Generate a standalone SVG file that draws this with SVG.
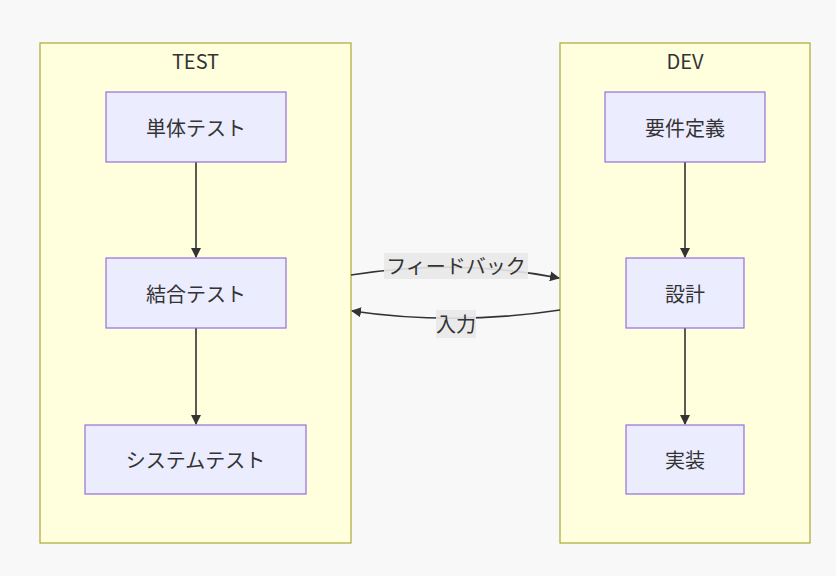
<svg xmlns="http://www.w3.org/2000/svg" width="836" height="576" viewBox="0 0 836 576">
<style>
.cluster rect{fill:#ffffde;stroke:#aaaa33;stroke-width:1.2}
.node rect{fill:#ececff;stroke:#9370db;stroke-width:1.2}
text{font-family:"Noto Sans CJK JP","Noto Sans",sans-serif;fill:#333;font-size:20px;text-anchor:middle;dominant-baseline:central}
.edge{fill:none;stroke:#333;stroke-width:1.6}
.lbl{fill:#e8e8e8;opacity:0.9}
</style>
<defs>
<marker id="arr" viewBox="0 0 10 10" refX="9" refY="5" markerWidth="10" markerHeight="10" markerUnits="userSpaceOnUse" orient="auto">
<path d="M0,0 L10,5 L0,10 z" fill="#333"/>
</marker>
</defs>
<rect width="836" height="576" fill="#f8f8f8"/>
<g id="TEST" class="cluster"><rect x="40" y="43" width="311" height="500"/><text x="195.5" y="60">TEST</text></g>
<g id="DEV" class="cluster"><rect x="560" y="43" width="250" height="500"/><text x="685" y="60">DEV</text></g>
<g id="connectors">
<path class="edge" d="M196,162 L196,257" marker-end="url(#arr)"/>
<path class="edge" d="M196,328 L196,424" marker-end="url(#arr)"/>
<path class="edge" d="M685,162 L685,257" marker-end="url(#arr)"/>
<path class="edge" d="M685,328 L685,424" marker-end="url(#arr)"/>
<path class="edge" d="M351,275 Q455,258 559,278" marker-end="url(#arr)"/>
<path class="edge" d="M560,310 Q455,326 352,311" marker-end="url(#arr)"/>
<rect class="lbl" x="384" y="253" width="144" height="26"/>
<text x="456" y="265">フィードバック</text>
<rect class="lbl" x="436" y="310" width="40" height="28"/>
<text x="456" y="323">入力</text>
</g>
<g id="n1" class="node"><rect x="106" y="92" width="180" height="70"/><text x="196" y="127">単体テスト</text></g>
<g id="n2" class="node"><rect x="106" y="258" width="180" height="70"/><text x="196" y="293">結合テスト</text></g>
<g id="n3" class="node"><rect x="85" y="425" width="221" height="69"/><text x="195.5" y="459.5">システムテスト</text></g>
<g id="n4" class="node"><rect x="605" y="92" width="160" height="70"/><text x="685" y="127">要件定義</text></g>
<g id="n5" class="node"><rect x="626" y="258" width="118" height="70"/><text x="685" y="293">設計</text></g>
<g id="n6" class="node"><rect x="626" y="425" width="118" height="69"/><text x="685" y="459.5">実装</text></g>
</svg>
